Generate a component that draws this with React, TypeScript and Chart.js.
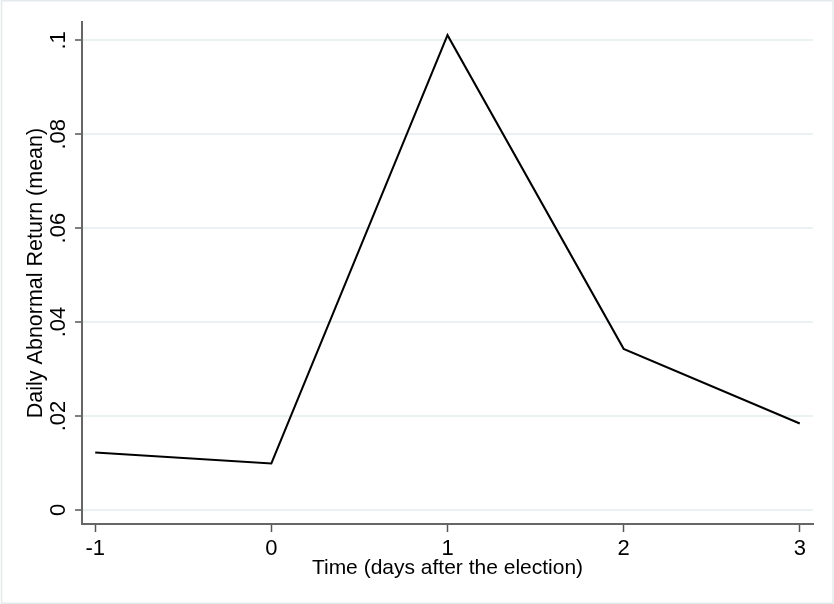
import { useEffect, useRef } from 'react';
import { Chart, registerables } from 'chart.js';

Chart.register(...registerables);

const days = [-1, 0, 1, 2, 3];
const meanReturn = [0.0122, 0.0099, 0.1011, 0.0343, 0.0184];
const xTickValues = [-1, 0, 1, 2, 3];
const xTickLabels = ['-1', '0', '1', '2', '3'];
const yTickValues = [0, 0.02, 0.04, 0.06, 0.08, 0.1];
const yTickLabels = ['0', '.02', '.04', '.06', '.08', '.1'];
const xTitle = 'Time (days after the election)';
const yTitle = 'Daily Abnormal Return (mean)';

const FONT = "'Liberation Sans', Arial, sans-serif";
const TICK_SIZE = 22;
const TITLE_SIZE = 21;

const stataPlugin = {
  id: 'stataExtras',
  beforeDraw(chart: any) {
    const ctx = chart.ctx;
    ctx.save();
    ctx.fillStyle = '#ffffff';
    ctx.fillRect(0, 0, chart.width, chart.height);
    ctx.strokeStyle = '#e4eaec';
    ctx.lineWidth = 1.5;
    ctx.strokeRect(1.5, 0.75, chart.width - 2.5, chart.height - 1.5);
    ctx.restore();
  },
  afterDraw(chart: any) {
    const ctx = chart.ctx;
    const yScale = chart.scales.y;
    const baseX = chart.chartArea.left - 17;
    ctx.save();
    ctx.font = `${TICK_SIZE}px ${FONT}`;
    ctx.fillStyle = '#000000';
    ctx.textAlign = 'center';
    ctx.textBaseline = 'alphabetic';
    yTickValues.forEach((v, i) => {
      const py = yScale.getPixelForValue(v);
      ctx.save();
      ctx.translate(baseX, py);
      ctx.rotate(-Math.PI / 2);
      ctx.fillText(yTickLabels[i], 0, 0);
      ctx.restore();
    });
    ctx.restore();
  },
};

export default function App() {
  const ref = useRef<HTMLCanvasElement>(null);

  useEffect(() => {
    if (!ref.current) return;
    const chart = new Chart(ref.current, {
      type: 'line',
      data: {
        datasets: [
          {
            data: days.map((d, i) => ({ x: d, y: meanReturn[i] })),
            borderColor: '#000000',
            borderWidth: 2,
            pointRadius: 0,
            tension: 0,
            fill: false,
          },
        ],
      },
      options: {
        animation: false,
        responsive: false,
        events: [],
        layout: { padding: { top: 22, right: 21, bottom: 0, left: 0 } },
        plugins: {
          legend: { display: false },
          tooltip: { enabled: false },
        },
        scales: {
          x: {
            type: 'linear',
            min: -1.075,
            max: 3.075,
            afterBuildTicks: (s: any) => {
              s.ticks = xTickValues.map((v) => ({ value: v }));
            },
            afterFit: (s: any) => {
              s.height = 80;
            },
            ticks: {
              callback: (v: any) => xTickLabels[xTickValues.indexOf(Number(v))],
              font: { family: FONT, size: TICK_SIZE },
              color: '#000000',
              padding: 4,
              maxRotation: 0,
              autoSkip: false,
            },
            grid: {
              drawOnChartArea: false,
              drawTicks: true,
              tickLength: 8,
              tickColor: '#555555',
              tickWidth: 1.5,
            },
            border: { color: '#666666', width: 2 },
            title: {
              display: true,
              text: xTitle,
              font: { family: FONT, size: TITLE_SIZE },
              color: '#000000',
              padding: { top: 0, bottom: 23 },
            },
          },
          y: {
            type: 'linear',
            min: -0.003,
            max: 0.1039,
            afterBuildTicks: (s: any) => {
              s.ticks = yTickValues.map((v) => ({ value: v }));
            },
            afterFit: (s: any) => {
              s.width = 82;
            },
            ticks: { display: false },
            grid: {
              color: '#eaf1f3',
              lineWidth: 2,
              drawTicks: true,
              tickLength: 7,
              tickColor: '#555555',
              tickWidth: 1.5,
            },
            border: { color: '#666666', width: 2 },
            title: {
              display: true,
              text: yTitle,
              font: { family: FONT, size: 21.5 },
              color: '#000000',
              padding: { top: 23, bottom: 0 },
            },
          },
        },
      },
      plugins: [stataPlugin],
    } as any);
    return () => chart.destroy();
  }, []);

  return (
    <div style={{ position: 'absolute', left: 0, top: 0, width: 834, height: 604, background: '#ffffff' }}>
      <canvas ref={ref} width={834} height={604} style={{ display: 'block' }} />
    </div>
  );
}
